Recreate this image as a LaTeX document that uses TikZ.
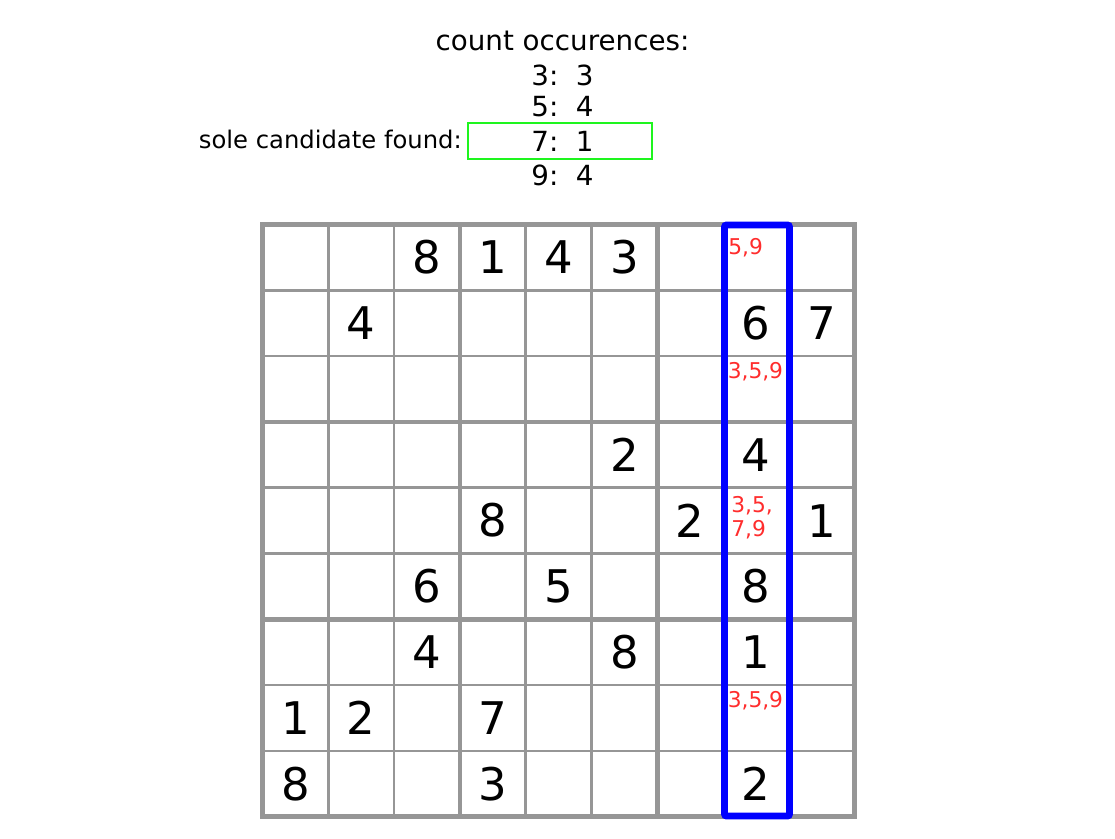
\documentclass[tikz,border=0pt]{standalone}
\usepackage{fontspec}
\setmainfont{DejaVu Sans}
\usepackage{xcolor}
\usepackage{tikz}
\usetikzlibrary{positioning}
\definecolor{GridGray}{RGB}{150,150,150}
\definecolor{CandRed}{RGB}{255,45,45}
\definecolor{SoleGreen}{RGB}{30,245,30}
\definecolor{ColBlue}{RGB}{0,0,255}

\begin{document}
\begin{tikzpicture}[x=0.75pt,y=-0.75pt,
    thinline/.style={draw=GridGray, line width=1.9pt},
    boxline/.style={draw=GridGray, line width=3.6pt, line cap=rect},
    given/.style={font=\fontsize{33.75}{36}\selectfont, inner sep=0pt},
    cand/.style={text=CandRed, font=\fontsize{16.3}{18}\selectfont, align=left, anchor=north west, inner sep=0pt},
    info/.style={font=\fontsize{20.8}{24}\selectfont, anchor=base, inner sep=0pt}]
    \useasboundingbox (0,0) rectangle (1115,839);
    \def\cs{65.8}
    % grid
    \foreach \i in {0,...,9} {
        \draw[thinline] (262.5+\i*\cs, 224.5) -- ++(0, 9*\cs);
        \draw[thinline] (262.5, 224.5+\i*\cs) -- ++(9*\cs, 0);
    }
    \foreach \i in {0,3,6,9} {
        \draw[boxline] (262.5+\i*\cs, 224.5) -- ++(0, 9*\cs);
        \draw[boxline] (262.5, 224.5+\i*\cs) -- ++(9*\cs, 0);
    }
    % given digits
    \foreach \r/\c/\v in {1/3/8, 1/4/1, 1/5/4, 1/6/3,
                          2/2/4, 2/8/6, 2/9/7,
                          4/6/2, 4/8/4,
                          5/4/8, 5/7/2, 5/9/1,
                          6/3/6, 6/5/5, 6/8/8,
                          7/3/4, 7/6/8, 7/8/1,
                          8/1/1, 8/2/2, 8/4/7,
                          9/1/8, 9/4/3, 9/8/2} {
        \node[given] (g\r\c) at ({262.5+(\c-0.5)*\cs}, {224.5+(\r-0.5)*\cs}) {\v};
    }
    % candidates
    \node[cand] (c18) at (728, 238) {5,9};
    \node[cand] (c38) at (727.5, 362) {3,5,9};
    \node[cand] (c58) at (731, 496) {3,5,\\7,9};
    \node[cand] (c88) at (727.5, 691) {3,5,9};
    % column under test
    \draw[draw=ColBlue, line width=5.1pt, rounded corners=1.5pt] (724.5, 225) rectangle (789.5, 816);
    % counts
    \node[info] (head) at (562.5, 50.7) {count occurences:};
    \node[info] (n3) at (562.5, 85) {3:\ \ 3};
    \node[info] (n5) at (562.5, 116.7) {5:\ \ 4};
    \node[info] (n7) at (562.5, 151.7) {7:\ \ 1};
    \node[info] (n9) at (562.5, 185) {9:\ \ 4};
    \draw[draw=SoleGreen, line width=2.2pt] (468, 123) rectangle (652, 159);
    \node[info, anchor=base east, font=\fontsize{18.2}{22}\selectfont] (sole) at (462, 148.5) {sole candidate found:};
\end{tikzpicture}
\end{document}
